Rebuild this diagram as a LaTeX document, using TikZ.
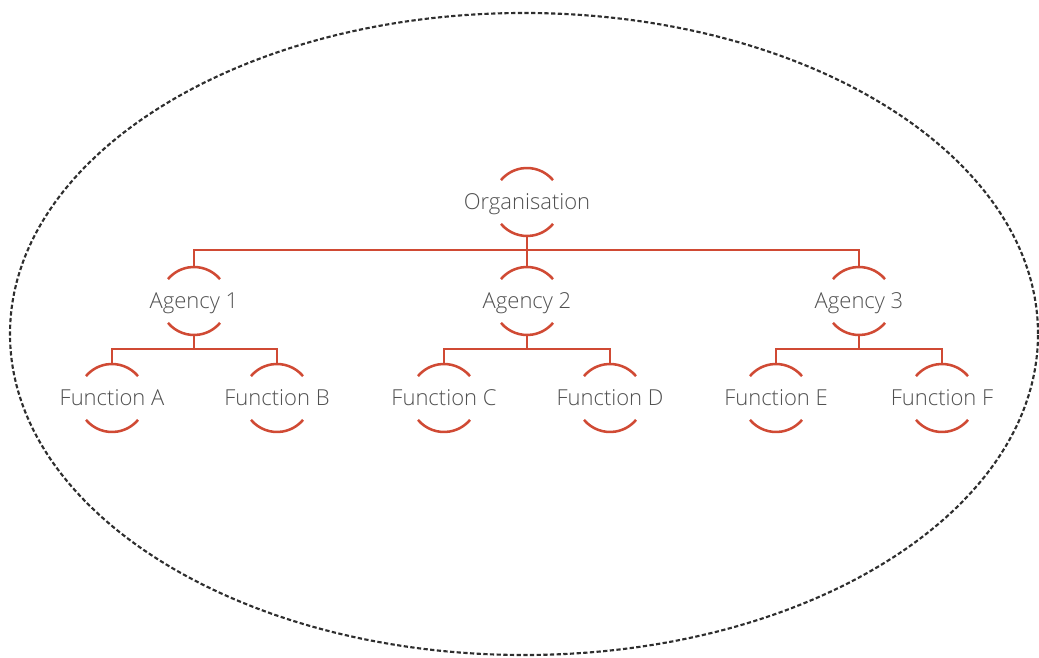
\documentclass[tikz,border=0pt]{standalone}
\usepackage{fontspec}
\setmainfont{Open Sans}[UprightFont=* Light]
\definecolor{branch}{HTML}{D04A34}
\definecolor{labelgray}{HTML}{505050}
\definecolor{rim}{HTML}{2E2E2E}
\begin{document}
\begin{tikzpicture}[x=0.75pt,y=0.75pt,
  unit/.style={rectangle,minimum height=51pt,inner sep=0pt,outer sep=0pt,text depth=0pt,text=labelgray,font=\fontsize{16.5}{19}\selectfont},
  branchline/.style={draw=branch,line width=1.9pt},
  rimline/.style={draw=rim,line width=1.6pt,dash pattern=on 3.2pt off 1.8pt}]
\useasboundingbox (0,0) rectangle (1039,657);
% outer boundary
\draw[rimline] (524,323) ellipse [x radius=514,y radius=321];
% hierarchy units
\node[unit] (org) at (527,455) {Organisation};
\node[unit] (ag1) at (194,356) {Agency 1};
\node[unit] (ag2) at (527,356) {Agency 2};
\node[unit] (ag3) at (859,356) {Agency 3};
\node[unit] (fa) at (112,259) {Function A};
\node[unit] (fb) at (277,259) {Function B};
\node[unit] (fc) at (444,259) {Function C};
\node[unit] (fd) at (610,259) {Function D};
\node[unit] (fe) at (776,259) {Function E};
\node[unit] (ff) at (942,259) {Function F};
% upper and lower arcs around each unit
\foreach \n in {org,ag1,ag2,ag3,fa,fb,fc,fd,fe,ff}{
  \draw[branchline] ([shift={(40:34)}]\n.center) arc[start angle=40,end angle=140,radius=34];
  \draw[branchline] ([shift={(220:34)}]\n.center) arc[start angle=220,end angle=320,radius=34];
}
% connectors
\coordinate (b0) at ([shift={(0,-14)}]org.south);
\draw[branchline] (org.south) -- (b0) -| (ag1.north);
\draw[branchline] (b0) -| (ag3.north);
\draw[branchline] (b0) -- (ag2.north);
\foreach \p/\l/\r in {ag1/fa/fb,ag2/fc/fd,ag3/fe/ff}{
  \coordinate (\p-bar) at ([shift={(0,-14)}]\p.south);
  \draw[branchline] (\p.south) -- (\p-bar) -| (\l.north);
  \draw[branchline] (\p-bar) -| (\r.north);
}
\end{tikzpicture}
\end{document}
